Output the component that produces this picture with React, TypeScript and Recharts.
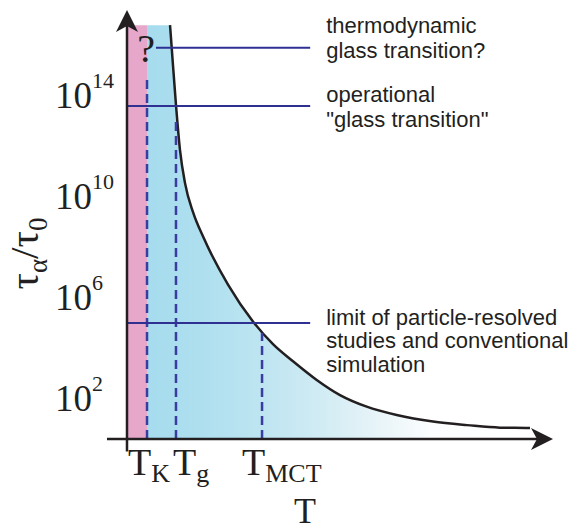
import React from 'react';
import {
  ComposedChart,
  Area,
  Line,
  XAxis,
  YAxis,
  ReferenceLine,
  ReferenceArea,
  ReferenceDot,
} from 'recharts';

// ---- data (T in arbitrary units, log10(tau_alpha/tau_0)) ----
const T_K = 4.7;
const T_G = 11.5;
const T_MCT = 31.7;
const TOP_LEVEL = 16.9;

const curveT = [10.1, 10.5, 11.5, 12.44, 13.62, 15.56, 17.91, 23.71, 29.65, 34.27, 39.04, 44.53, 50.0, 56.27, 63.31, 71.83, 79.81, 87.56, 94.6];
const curveLogTau = [16.9, 15.99, 13.73, 11.95, 10.64, 9.46, 8.5, 6.62, 5.14, 4.26, 3.57, 2.84, 2.24, 1.78, 1.45, 1.19, 1.05, 0.95, 0.94];

const yTicks = [2, 6, 10, 14];
const xTickValues = [T_K, T_G, T_MCT];
const xTickSubs = ['K', 'g', 'MCT'];

const levelValues = [16.0, 13.7, 5.1];
const levelStarts = [6.8, 0, 0];
const levelEnd = 43;
const levelTexts = [
  ['thermodynamic', 'glass transition?'],
  ['operational', '"glass transition"'],
  ['limit of particle-resolved', 'studies and conventional', 'simulation'],
];

const dashedTops = [14.9, 13.2, 4.7];

// ---- styles ----
const X_DOMAIN: [number, number] = [0, 100];
const Y_DOMAIN: [number, number] = [0.5, 17.5];
const levelTextDy = [
  [-15, 10],
  [-4, 21],
  [2, 25, 49],
];
const xTickDx = [-19, -3, -20];
const BLUE = '#2e3192';
const DASH_BLUE = '#3a3ca0';
const INK = '#231f20';
const SERIF = '"Liberation Serif", "Times New Roman", serif';
const SANS = '"Liberation Sans", Arial, sans-serif';

const data = [
  { T: T_K, fill: TOP_LEVEL },
  ...curveT.map((t, i) => ({ T: t, fill: curveLogTau[i], curve: curveLogTau[i] })),
];

const YTick = (props: any) => {
  const { x, y, payload } = props;
  return (
    <text x={x - 64} y={y + 10} fontFamily={SERIF} fontSize={37} fill={INK} textAnchor="start">
      <tspan>10</tspan>
      <tspan dy={-20} fontSize={22}>{payload.value}</tspan>
    </text>
  );
};

const XTick = (props: any) => {
  const { x, y, index } = props;
  return (
    <text x={x + xTickDx[index]} y={y + 28} fontFamily={SERIF} fontSize={38} fill={INK} textAnchor="start">
      <tspan>T</tspan>
      <tspan dy={7} fontSize={26}>{xTickSubs[index]}</tspan>
    </text>
  );
};

const YLabel = (props: any) => {
  const { viewBox } = props;
  const cx = viewBox.x + 11;
  const cy = viewBox.y + viewBox.height / 2 + 29;
  return (
    <text
      x={cx}
      y={cy}
      transform={`rotate(-90 ${cx} ${cy})`}
      textAnchor="middle"
      fontFamily={SERIF}
      fontSize={41}
      fill={INK}
    >
      <tspan>τ</tspan>
      <tspan dy={9} fontSize={27}>α</tspan>
      <tspan dy={-9}>/τ</tspan>
      <tspan dy={9} fontSize={27}>0</tspan>
    </text>
  );
};

const XLabel = (props: any) => {
  const { viewBox } = props;
  return (
    <text
      x={viewBox.x + viewBox.width / 2 - 35}
      y={viewBox.y + viewBox.height - 8}
      textAnchor="middle"
      fontFamily={SERIF}
      fontSize={36}
      fill={INK}
    >
      T
    </text>
  );
};

const makeLevelLabel = (idx: number) => (props: any) => {
  const { viewBox } = props;
  const x = viewBox.x + viewBox.width + 16;
  const y = viewBox.y;
  return (
    <text fontFamily={SANS} fontSize={22} fill={INK}>
      {levelTexts[idx].map((line, i) => (
        <tspan key={i} x={x} y={y + levelTextDy[idx][i]}>
          {line}
        </tspan>
      ))}
    </text>
  );
};

const QuestionLabel = (props: any) => {
  const { viewBox } = props;
  return (
    <text x={viewBox.x - 1} y={viewBox.y - 14} textAnchor="middle" fontFamily={SERIF} fontSize={40} fill={INK}>
      ?
    </text>
  );
};

const ArrowUp = (props: any) => {
  const { cx, cy } = props;
  return <path d={`M${cx},${cy} L${cx + 11},${cy + 22} L${cx},${cy + 16} L${cx - 11},${cy + 22} Z`} fill={INK} />;
};

const ArrowRight = (props: any) => {
  const { cx, cy } = props;
  return <path d={`M${cx},${cy} L${cx - 22},${cy + 11} L${cx - 16},${cy} L${cx - 22},${cy - 11} Z`} fill={INK} />;
};

export default function App() {
  return (
    <div style={{ position: 'absolute', left: 0, top: 0, background: '#fff' }}>
      <ComposedChart
        width={569}
        height={531}
        data={data}
        margin={{ top: 10, right: 16, bottom: 0, left: 27 }}
      >
        <defs>
          <linearGradient id="tauFill" x1="0" y1="0" x2="1" y2="0">
            <stop offset="0" stopColor="#a6dcee" />
            <stop offset="0.14" stopColor="#aedfef" />
            <stop offset="0.28" stopColor="#bce4f1" />
            <stop offset="0.4" stopColor="#cae9f3" />
            <stop offset="0.5" stopColor="#d8eef5" />
            <stop offset="0.62" stopColor="#eaf5f9" />
            <stop offset="0.74" stopColor="#fbfdfe" />
            <stop offset="1" stopColor="#ffffff" />
          </linearGradient>
        </defs>
        <XAxis
          type="number"
          dataKey="T"
          domain={X_DOMAIN}
          ticks={xTickValues}
          interval={0}
          tick={<XTick />}
          axisLine={false}
          tickLine={false}
          height={92}
          allowDataOverflow
          label={<XLabel />}
        />
        <YAxis
          type="number"
          domain={Y_DOMAIN}
          ticks={yTicks}
          interval={0}
          tick={<YTick />}
          axisLine={false}
          tickLine={false}
          width={100}
          allowDataOverflow
          label={<YLabel />}
        />
        <ReferenceArea x1={0} x2={T_K} y1={Y_DOMAIN[0]} y2={TOP_LEVEL} fill="#e7a7cb" fillOpacity={1} stroke="none" ifOverflow="visible" />
        <Area
          type="monotone"
          dataKey="fill"
          stroke="none"
          fill="url(#tauFill)"
          fillOpacity={1}
          baseValue={Y_DOMAIN[0]}
          isAnimationActive={false}
          activeDot={false}
        />
        <Line
          type="monotone"
          dataKey="curve"
          stroke={INK}
          strokeWidth={2.5}
          dot={false}
          activeDot={false}
          isAnimationActive={false}
        />
        {xTickValues.map((t, i) => (
          <ReferenceLine
            key={`d${i}`}
            segment={[{ x: t, y: Y_DOMAIN[0] }, { x: t, y: dashedTops[i] }]}
            stroke={DASH_BLUE}
            strokeWidth={2.5}
            strokeDasharray="9 5"
            ifOverflow="visible"
            label={i === 0 ? <QuestionLabel /> : undefined}
          />
        ))}
        {levelValues.map((v, i) => (
          <ReferenceLine
            key={`l${i}`}
            segment={[{ x: levelStarts[i], y: v }, { x: levelEnd, y: v }]}
            stroke={BLUE}
            strokeWidth={2}
            ifOverflow="visible"
            label={makeLevelLabel(i)}
          />
        ))}
        <ReferenceLine
          segment={[{ x: 0, y: 0 }, { x: 0, y: 17.0 }]}
          stroke={INK}
          strokeWidth={2.5}
          ifOverflow="visible"
        />
        <ReferenceLine
          segment={[{ x: -4.7, y: Y_DOMAIN[0] }, { x: 98, y: Y_DOMAIN[0] }]}
          stroke={INK}
          strokeWidth={2.5}
          ifOverflow="visible"
        />
        <ReferenceDot x={0} y={Y_DOMAIN[1]} r={1} ifOverflow="visible" shape={<ArrowUp />} />
        <ReferenceDot x={X_DOMAIN[1]} y={Y_DOMAIN[0]} r={1} ifOverflow="visible" shape={<ArrowRight />} />
      </ComposedChart>
    </div>
  );
}
